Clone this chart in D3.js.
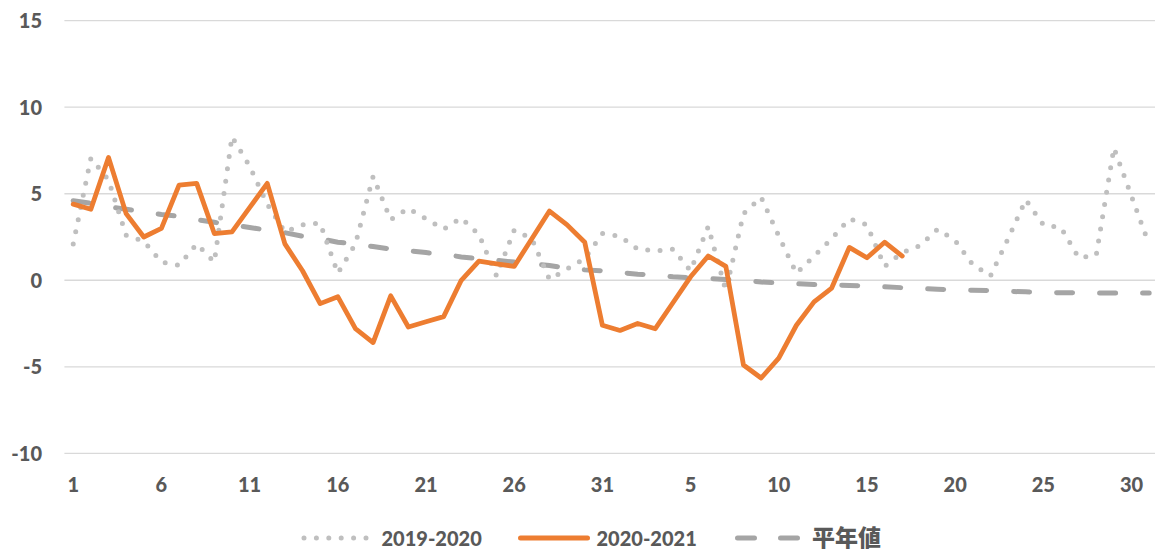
<!DOCTYPE html>
<html>
<head>
<meta charset="utf-8">
<script src="https://cdnjs.cloudflare.com/ajax/libs/d3/7.8.5/d3.min.js"></script>
<style>
  html, body { margin: 0; padding: 0; background: #fff; }
  svg text { font-family: Lato, "Noto Sans", sans-serif; font-weight: 900; fill: #595959; }
</style>
</head>
<body>
<svg id="chart" width="1155" height="551"></svg>
<script>
// days: Dec 1-31 then Jan 1-31
var days = d3.range(1, 32).concat(d3.range(1, 32));

var season1920 = [2.1, 7.05, 5.8, 2.6, 2.25, 1.05, 0.87, 2.1, 1.05, 8.3,
  6.6, 4.4, 2.8, 3.2, 3.3, 0.4, 2.1, 6.0, 3.5, 4.15,
  3.55, 2.95, 3.6, 2.65, 0.25, 2.9, 2.4, 0.05, 0.65, 1.25,
  2.7, 2.55, 1.8, 1.7, 1.8, 0.55, 3.1, -0.6, 3.85, 4.8,
  2.55, 0.4, 1.4, 2.4, 3.55, 3.2, 0.8, 1.6, 2.0, 2.95,
  2.3, 0.9, 0.25, 2.4, 4.65, 3.2, 3.05, 1.3, 1.45, 7.65,
  4.85, 2.05];

var season2021 = [4.4, 4.1, 7.1, 3.85, 2.5, 3.0, 5.5, 5.6, 2.7, 2.8,
  4.2, 5.6, 2.1, 0.55, -1.35, -0.95, -2.8, -3.6, -0.9, -2.7,
  -2.4, -2.1, 0.0, 1.1, 0.95, 0.8, 2.4, 4.0, 3.2, 2.2,
  -2.6, -2.9, -2.5, -2.8, -1.3, 0.2, 1.4, 0.8, -4.9, -5.65,
  -4.5, -2.6, -1.25, -0.45, 1.9, 1.3, 2.2, 1.4];

var normal = [4.6, 4.45, 4.25, 4.1, 3.95, 3.8, 3.7, 3.5, 3.35, 3.2,
  3.05, 2.9, 2.75, 2.55, 2.4, 2.2, 2.1, 1.95, 1.8, 1.7,
  1.6, 1.5, 1.35, 1.25, 1.15, 1.05, 0.95, 0.85, 0.7, 0.6,
  0.55, 0.45, 0.35, 0.3, 0.2, 0.15, 0.1, 0.05, 0.0, -0.1,
  -0.15, -0.2, -0.25, -0.28, -0.3, -0.33, -0.38, -0.43, -0.48, -0.52,
  -0.55, -0.58, -0.6, -0.64, -0.67, -0.7, -0.72, -0.73, -0.73, -0.73,
  -0.73, -0.73];

var yTicks = [-10, -5, 0, 5, 10, 15];
var seriesNames = ["2019-2020", "2020-2021", "平年値"];

var svg = d3.select("#chart");

var x = d3.scaleBand()
  .domain(d3.range(days.length))
  .range([64.4, 1158]);

var y = d3.scaleLinear()
  .domain([-10, 15])
  .range([453.3, 20.7]);

var cx = function(i){ return x(i) + x.bandwidth() / 2; };

// gridlines
svg.append("g")
  .selectAll("line")
  .data(yTicks)
  .enter().append("line")
  .attr("x1", 64.4)
  .attr("x2", 1158)
  .attr("y1", function(d){ return y(d); })
  .attr("y2", function(d){ return y(d); })
  .attr("stroke", "#D9D9D9")
  .attr("stroke-width", 1.3);

// y labels (plain hyphen for negatives, like the original)
var yAxis = d3.axisLeft(y)
  .tickValues(yTicks)
  .tickFormat(function(d){ return String(d); })
  .tickSize(0);
svg.append("g")
  .attr("transform", "translate(42,0)")
  .call(yAxis)
  .call(function(g){ g.select(".domain").remove(); })
  .selectAll("text")
  .attr("x", 0)
  .attr("dy", "0.36em")
  .style("font-size", "20px")
  .attr("fill", "#595959");

// x labels, every 5th day
var xAxis = d3.axisBottom(x)
  .tickValues(d3.range(0, days.length, 5))
  .tickFormat(function(i){ return days[i]; })
  .tickSize(0);
svg.append("g")
  .attr("transform", "translate(0,474)")
  .call(xAxis)
  .call(function(g){ g.select(".domain").remove(); })
  .selectAll("text")
  .attr("y", 18)
  .attr("dy", null)
  .style("font-size", "20px")
  .attr("fill", "#595959");

var line = d3.line()
  .x(function(d, i){ return cx(i); })
  .y(function(d){ return y(d); });

// normal (dashed)
svg.append("path")
  .attr("d", line(normal))
  .attr("fill", "none")
  .attr("stroke", "#A5A5A5")
  .attr("stroke-width", 5)
  .attr("stroke-linecap", "round")
  .attr("stroke-dasharray", "16 27");

// 2019-2020 (dotted)
svg.append("path")
  .attr("d", line(season1920))
  .attr("fill", "none")
  .attr("stroke", "#BFBFBF")
  .attr("stroke-width", 5)
  .attr("stroke-linecap", "round")
  .attr("stroke-dasharray", "0 12.4");

// 2020-2021 (solid orange)
svg.append("path")
  .attr("d", line(season2021))
  .attr("fill", "none")
  .attr("stroke", "#ED7D31")
  .attr("stroke-width", 4.8)
  .attr("stroke-linejoin", "round")
  .attr("stroke-linecap", "round");

// legend
var legendItems = [
  {name: seriesNames[0], x1: 304, x2: 366, color: "#BFBFBF", dash: "0 12.4", tx: 381.5, fs: 20, ff: "Lato, sans-serif"},
  {name: seriesNames[1], x1: 520.5, x2: 587.5, color: "#ED7D31", dash: null, tx: 596.5, fs: 20, ff: "Lato, sans-serif"},
  {name: seriesNames[2], x1: 737.5, x2: 797.5, color: "#A5A5A5", dash: "17 26", tx: 812, fs: 23, ff: "'Noto Sans CJK JP', sans-serif"}
];
var lg = svg.append("g").attr("class", "legend");
legendItems.forEach(function(d){
  lg.append("line")
    .attr("x1", d.x1).attr("x2", d.x2)
    .attr("y1", 538).attr("y2", 538)
    .attr("stroke", d.color)
    .attr("stroke-width", 5)
    .attr("stroke-linecap", "round")
    .attr("stroke-dasharray", d.dash);
  lg.append("text")
    .attr("x", d.tx)
    .attr("y", 545.5)
    .style("font-size", d.fs + "px")
    .style("font-family", d.ff)
    .text(d.name);
});
</script>
</body>
</html>
